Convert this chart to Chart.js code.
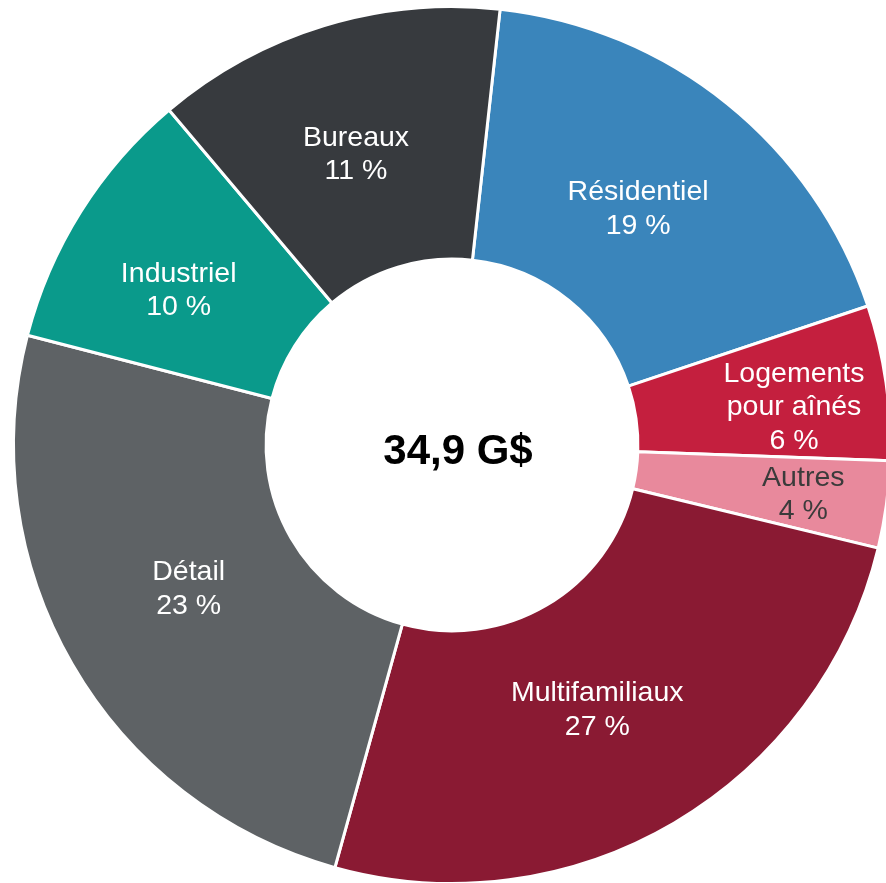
<!DOCTYPE html>
<html>
<head>
<meta charset="utf-8">
<script src="https://cdn.jsdelivr.net/npm/chart.js@4"></script>
<style>
  html, body { margin: 0; padding: 0; background: #ffffff; overflow: hidden; width: 886px; height: 883px; }
  #wrap { position: absolute; left: 2px; top: -5px; width: 900px; height: 900px; }
</style>
</head>
<body>
<div id="wrap"><canvas id="c" width="900" height="900"></canvas></div>
<script>
// ---- data (clockwise from the top) ----
const categories = [['Résidentiel'], ['Logements', 'pour aînés'], ['Autres'], ['Multifamiliaux'], ['Détail'], ['Industriel'], ['Bureaux']];
// slice shares as drawn in the picture (degrees measured, expressed in %)
const sliceShares = [18.1, 5.7, 3.2, 25.5, 24.7, 9.8, 12.9];
// percentages printed on the labels
const printedPct = [19, 6, 4, 27, 23, 10, 11];
const totalLabel = '34,9 G$';

// ---- styles ----
const colors = ['#3a85bb', '#c41f3e', '#e8899c', '#8a1a33', '#5e6265', '#0a9a8b', '#373a3e'];
const textColors = ['#ffffff', '#ffffff', '#3b3b3b', '#ffffff', '#ffffff', '#ffffff', '#ffffff'];
const labelNudge = [[-10, 5], [33, 5], [42, 5], [-13, -6], [7, -14], [-9, 10], [-5, 6]];
const FONT = '"Liberation Sans", Arial, Helvetica, sans-serif';

const labelPlugin = {
  id: 'sliceLabels',
  afterDatasetsDraw(chart) {
    const ctx = chart.ctx;
    const meta = chart.getDatasetMeta(0);
    ctx.save();
    ctx.textAlign = 'center';
    ctx.textBaseline = 'alphabetic';
    ctx.font = '28.5px ' + FONT;
    meta.data.forEach((arc, i) => {
      const p = arc.getProps(['x', 'y', 'startAngle', 'endAngle', 'innerRadius', 'outerRadius'], true);
      const mid = (p.startAngle + p.endAngle) / 2;
      const r = (p.innerRadius + p.outerRadius) / 2;
      const cx = p.x + Math.cos(mid) * r + labelNudge[i][0];
      const cy = p.y + Math.sin(mid) * r + labelNudge[i][1];
      const lines = categories[i].concat([printedPct[i] + ' %']);
      const lh = 33.3;
      ctx.fillStyle = textColors[i];
      lines.forEach((t, k) => {
        const by = cy + (k - (lines.length - 1) / 2) * lh + 10;
        ctx.fillText(t, cx, by);
      });
    });
    // centre total
    const a0 = meta.data[0];
    ctx.fillStyle = '#000000';
    ctx.font = 'bold 42px ' + FONT;
    ctx.fillText(totalLabel, a0.x + 6, a0.y + 18.5);
    ctx.restore();
  }
};

new Chart(document.getElementById('c'), {
  type: 'doughnut',
  data: {
    labels: categories.map(c => c.join(' ')),
    datasets: [{
      data: sliceShares,
      backgroundColor: colors,
      borderColor: '#ffffff',
      borderWidth: 3,
      hoverOffset: 0
    }]
  },
  options: {
    responsive: false,
    animation: false,
    rotation: 6.3,
    cutout: '42.4%',
    layout: { padding: 10 },
    plugins: {
      legend: { display: false },
      tooltip: { enabled: false }
    }
  },
  plugins: [labelPlugin]
});
</script>
</body>
</html>
